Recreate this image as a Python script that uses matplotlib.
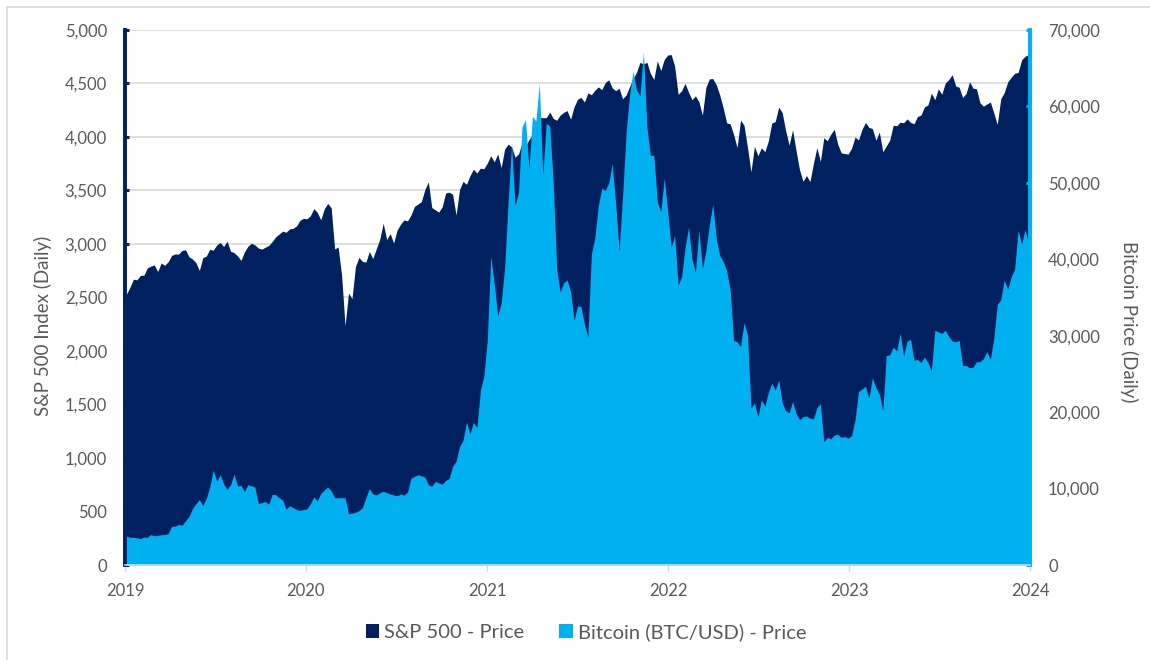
import pandas as pd
import matplotlib
matplotlib.use("Agg")
import matplotlib.pyplot as plt
from matplotlib.patches import Patch
from matplotlib.lines import Line2D
from matplotlib.ticker import FuncFormatter, MultipleLocator

plt.rcParams['font.family'] = ['Lato', 'DejaVu Sans']

# ---- Data (weekly, Friday samples) ----
first_fridays = {2019: "2019-01-04", 2020: "2020-01-03", 2021: "2021-01-01",
                 2022: "2022-01-07", 2023: "2023-01-06"}

sp500_2019 = [2532, 2596, 2671, 2665, 2707, 2708, 2776, 2793, 2804, 2743, 2822, 2801, 2834,
              2893, 2907, 2905, 2940, 2946, 2881, 2860, 2826, 2752, 2873, 2887, 2950, 2942,
              2990, 3014, 2977, 3026, 2932, 2919, 2889, 2847, 2926, 2979, 3007, 2992, 2962,
              2952, 2970, 2986, 3023, 3067, 3093, 3120, 3110, 3141, 3146, 3169, 3221, 3240]
sp500_2020 = [3235, 3265, 3330, 3295, 3226, 3328, 3380, 3338, 2954, 2972, 2711, 2237, 2541,
              2489, 2790, 2875, 2837, 2831, 2930, 2864, 2955, 3044, 3194, 3041, 3098, 3009,
              3130, 3185, 3225, 3216, 3271, 3351, 3373, 3397, 3508, 3580, 3341, 3319, 3298,
              3348, 3477, 3484, 3465, 3270, 3509, 3585, 3558, 3638, 3699, 3663, 3709, 3703]
sp500_2021 = [3756, 3825, 3768, 3841, 3714, 3887, 3934, 3907, 3811, 3842, 3943, 3913, 3975,
              4020, 4129, 4185, 4180, 4181, 4233, 4174, 4156, 4204, 4230, 4247, 4166, 4281,
              4352, 4370, 4327, 4412, 4395, 4437, 4468, 4442, 4509, 4535, 4459, 4433, 4455,
              4357, 4391, 4471, 4545, 4605, 4697, 4683, 4698, 4595, 4538, 4712, 4620, 4725, 4766]
sp500_2022 = [4770, 4663, 4398, 4432, 4501, 4419, 4349, 4385, 4329, 4204, 4463, 4543,
              4546, 4488, 4393, 4272, 4132, 4123, 4024, 3901, 4158, 4109, 3901, 3675, 3912,
              3825, 3899, 3863, 3962, 4130, 4145, 4280, 4228, 4058, 3924, 4067, 3873, 3693, 3586,
              3640, 3583, 3752, 3901, 3771, 3993, 3965, 4026, 4072, 3934, 3852, 3845, 3840]
sp500_2023 = [3895, 3999, 3973, 4071, 4136, 4090, 4079, 3970, 4046, 3862, 3917, 3971, 4109,
              4105, 4138, 4133, 4169, 4136, 4124, 4192, 4205, 4282, 4299, 4410, 4348, 4450,
              4399, 4505, 4536, 4582, 4478, 4464, 4370, 4406, 4516, 4457, 4450, 4320, 4288,
              4309, 4327, 4224, 4117, 4358, 4415, 4514, 4559, 4595, 4604, 4719, 4755, 4770]

btc_2019 = [3790, 3630, 3600, 3570, 3440, 3650, 3620, 3980, 3830, 3870, 3960, 3990, 4100,
            5040, 5070, 5300, 5200, 5770, 6350, 7360, 8000, 8550, 7800, 8700, 10200, 12400,
            11000, 11800, 10600, 9900, 10500, 11900, 10350, 10400, 9600, 10500, 10350, 10200, 8050,
            8150, 8300, 7960, 9250, 9200, 8800, 8480, 7300, 7750, 7500, 7250, 7150, 7250]
btc_2020 = [7350, 8000, 8900, 8400, 9350, 9800, 10200, 9690, 8800, 8800, 8800, 8800, 6700,
            6800, 6900, 7100, 7500, 8800, 10000, 9300, 9170, 9430, 9650, 9460, 9300, 9160,
            9070, 9270, 9150, 9550, 11350, 11600, 11800, 11670, 11500, 10500, 10300, 10930, 10730,
            10580, 11060, 11320, 12930, 13560, 15500, 16300, 18700, 17150, 18650, 18000, 22800, 24700]
btc_2021 = [29400, 40400, 36800, 32600, 34300, 38900, 47500, 55100, 47000, 48800, 57300, 58300, 51900,
            58700, 58100, 63000, 51000, 57800, 57400, 50100, 38800, 35700, 36900, 37300, 35800, 32000,
            33900, 33800, 31500, 29800, 40700, 42800, 47000, 49300, 49000, 50000, 52500, 47300, 41000,
            48200, 56500, 61500, 64600, 62200, 61400, 67100, 57300, 53600, 53600, 47500, 46200, 50600, 46300]
btc_2022 = [41600, 43100, 36600, 37700, 41500, 44200, 40000, 38300, 43800, 38800, 41100, 44500,
            47200, 42700, 40500, 39700, 38500, 36000, 29400, 29200, 28600, 31700, 30100, 20500, 21200,
            19400, 21600, 20800, 22600, 23800, 22900, 24200, 21200, 20200, 19900, 21400, 19800, 19000, 19400,
            19500, 19200, 19100, 20600, 21100, 16100, 16700, 16500, 17000, 17100, 16700, 16800, 16600]
btc_2023 = [16900, 19000, 22700, 23000, 23400, 21800, 24500, 23200, 22400, 20200, 27400, 27500, 28500,
            28000, 30300, 27300, 29300, 29500, 26800, 26900, 26500, 27200, 26500, 25400, 30700, 30500,
            30300, 30700, 29900, 29300, 29200, 29400, 26100, 26100, 25800, 25900, 26600, 26600, 27000,
            27900, 26900, 29700, 34100, 34700, 37300, 36100, 37700, 38700, 43800, 42000, 43900, 42100]

sp_years = {2019: sp500_2019, 2020: sp500_2020, 2021: sp500_2021, 2022: sp500_2022, 2023: sp500_2023}
btc_years = {2019: btc_2019, 2020: btc_2020, 2021: btc_2021, 2022: btc_2022, 2023: btc_2023}

dates, sp, btc = [], [], []
for yr in range(2019, 2024):
    n = min(len(sp_years[yr]), len(btc_years[yr]))
    d = pd.date_range(first_fridays[yr], periods=n, freq="W-FRI")
    dates.extend(d)
    sp.extend(sp_years[yr][:n])
    btc.extend(btc_years[yr][:n])
dates = pd.DatetimeIndex(dates)

year_ticks = ["2019", "2020", "2021", "2022", "2023", "2024"]
sp_label = "S&P 500 - Price"
btc_label = "Bitcoin (BTC/USD) - Price"

# ---- Style ----
NAVY = "#002060"
LBLUE = "#00B0F0"
GRID = "#d9d9d9"
TXT = "#595959"

fig = plt.figure(figsize=(11.5, 6.6), dpi=100)
ax = fig.add_axes([125/1150, 1-565/660, (1030-125)/1150, (565-30)/660])
ax2 = ax.twinx()

ax.fill_between(dates, sp, 0, color=NAVY, lw=0)
ax2.fill_between(dates, btc, 0, color=LBLUE, lw=0)

ax.set_xlim(pd.Timestamp("2019-01-01"), pd.Timestamp("2024-01-01"))
ax.set_ylim(0, 5000)
ax2.set_ylim(0, 70000)

ax.yaxis.set_major_locator(MultipleLocator(500))
ax2.yaxis.set_major_locator(MultipleLocator(10000))
fmt = FuncFormatter(lambda v, p: f"{int(v):,}")
ax.yaxis.set_major_formatter(fmt)
ax2.yaxis.set_major_formatter(fmt)

ax.set_xticks([pd.Timestamp(f"{y}-01-01") for y in year_ticks])
ax.set_xticklabels(year_ticks)

ax.set_axisbelow(True)
ax.grid(axis='y', color=GRID, lw=1.2)
ax.grid(axis='x', visible=False)

for a in (ax, ax2):
    a.spines['top'].set_visible(False)
    a.spines['bottom'].set_color(GRID)
    a.spines['bottom'].set_linewidth(1.2)
    a.spines['left'].set_color(NAVY)
    a.spines['left'].set_linewidth(2.6)
    a.spines['right'].set_color(LBLUE)
    a.spines['right'].set_linewidth(2.6)

ax.tick_params(axis='y', direction='in', length=3, width=2.2, color=NAVY,
               labelsize=12, labelcolor=TXT, pad=13)
ax2.tick_params(axis='y', direction='in', length=3, width=2.2, color=LBLUE,
                labelsize=12, labelcolor=TXT, pad=13)
ax.tick_params(axis='x', direction='out', length=4, width=1, color=GRID,
               labelsize=12, labelcolor=TXT, pad=9)

ax.set_ylabel("S&P 500 Index (Daily)", fontsize=13.5, color=TXT)
ax.yaxis.set_label_coords(-0.0807, 0.447)
ax2.set_ylabel("Bitcoin Price (Daily)", fontsize=13.5, color=TXT, rotation=-90, va='bottom')
ax2.yaxis.set_label_coords(1.099, 0.455)

handles = [Patch(facecolor=NAVY, edgecolor='none', label=sp_label),
           Patch(facecolor=LBLUE, edgecolor='none', label=btc_label)]
fig.legend(handles=handles, loc='center', bbox_to_anchor=(586/1150, 1-632/660), ncol=2,
           frameon=False, fontsize=14.5, handlelength=0.65, handleheight=0.65,
           handletextpad=0.25, columnspacing=1.75, labelcolor=TXT)

# light figure border (left and top visible)
fig.add_artist(Line2D([7/1150, 7/1150], [0, 1-7/660], transform=fig.transFigure, color=GRID, lw=1.2))
fig.add_artist(Line2D([7/1150, 1], [1-7/660, 1-7/660], transform=fig.transFigure, color=GRID, lw=1.2))

fig.savefig("out.png", dpi=100)
